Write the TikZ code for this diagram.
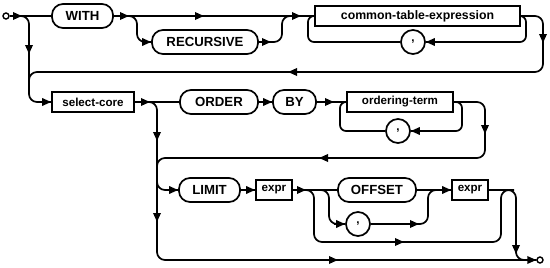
\documentclass[tikz,border=0pt]{standalone}
\usepackage{fontspec}
\setmainfont{Liberation Sans}
\usetikzlibrary{arrows.meta}
\begin{document}
\begin{tikzpicture}[x=1pt,y=-1pt,line width=1.7pt,
  rr/.style={rounded corners=8pt},
  rs/.style={rounded corners=6pt},
  kw/.style={draw,rounded corners=11pt,minimum height=24pt,inner sep=0pt,font=\bfseries\fontsize{13.2}{13}\selectfont},
  nt/.style={draw,rectangle,minimum height=20pt,inner sep=0pt,font=\bfseries\fontsize{11.6}{12}\selectfont},
  commanode/.style={draw,circle,minimum size=24pt,inner sep=0pt,font=\bfseries\fontsize{11.6}{12}\selectfont},
  endpt/.style={draw,circle,minimum size=6pt,inner sep=0pt,line width=1.4pt},
  ah/.style={-{Triangle[length=9pt,width=7.5pt]}}]
\useasboundingbox (0,0) rectangle (550,268);
% nodes
\node[endpt] (start) at (6,16) {};
\node[kw,minimum width=61pt] (with) at (82.5,16) {WITH};
\node[kw,minimum width=106pt] (rec) at (205,42) {RECURSIVE};
\node[nt,minimum width=205pt,font=\bfseries\fontsize{12.3}{12}\selectfont] (cte) at (417.5,16) {common-table-expression};
\node[commanode] (c1) at (413,42) {,};
\node[nt,minimum width=82pt] (core) at (93,102) {select-core};
\node[kw,minimum width=78pt] (order) at (219,102) {ORDER};
\node[kw,minimum width=43pt] (by) at (294.5,102) {BY};
\node[nt,minimum width=106pt] (oterm) at (400,102) {ordering-term};
\node[commanode] (c2) at (398,131) {,};
\node[kw,minimum width=61pt] (limit) at (209.5,190) {LIMIT};
\node[nt,minimum width=36pt] (e1) at (274,190) {expr};
\node[kw,minimum width=78pt] (offset) at (377,190) {OFFSET};
\node[commanode] (c3) at (358,224) {,};
\node[nt,minimum width=36pt] (e2) at (470,190) {expr};
\node[endpt] (end) at (540,260) {};
% row 1
\draw (start) -- (with);
\draw[ah] (11,16) -- (22,16);
\draw[rr] (15,16) -| (29,102) -- (core.west);
\draw[ah] (29,43) -- (29,54);
\draw[ah] (40,102) -- (core.west);
\draw (with) -- (cte);
\draw[ah] (118,16) -- (129,16);
\draw[ah] (193,16) -- (204,16);
\draw[ah] (290,16) -- (301,16);
\draw[rr] (126,16) -| (137,42) -- (rec.west);
\draw[ah] (142,42) -- (rec.west);
\draw[rr] (rec.east) -| (282,16) -- (292,16);
\draw[ah] (260,42) -- (271,42);
\draw[rs] (cte.east) -| (526,42) -- (c1.east);
\draw[rs] (c1.west) -| (308,16) -- (cte.west);
\draw[ah] (436,42) -- (c1.east);
\draw[rr] (cte.east) -| (543,72) -- (29,72) -- (29,90);
\draw[ah] (543,31) -- (543,43);
\draw[ah] (300,72) -- (288,72);
% row 2
\draw (core) -- (order);
\draw[ah] (138,102) -- (150,102);
\draw[rr] (145,102) -| (157,260) -- (end.west);
\draw[ah] (157,129) -- (157,141);
\draw[ah] (157,210) -- (157,222);
\draw (order) -- (by);
\draw[ah] (262,102) -- (by.west);
\draw (by) -- (oterm);
\draw[ah] (322,102) -- (334,102);
\draw[rs] (oterm.east) -| (462,131) -- (c2.east);
\draw[rs] (c2.west) -| (340,102) -- (oterm.west);
\draw[ah] (424,131) -- (c2.east);
\draw[rr] (oterm.east) -| (485,158) -- (157,158) -- (157,190) -- (limit.west);
\draw[ah] (485,122) -- (485,134);
\draw[ah] (331,158) -- (319,158);
\draw[ah] (168,190) -- (limit.west);
% row 3
\draw (limit) -- (e1);
\draw[ah] (244,190) -- (e1.west);
\draw (e1) -- (offset);
\draw[ah] (294,190) -- (306,190);
\draw[rr] (316,190) -| (329,224) -- (c3.west);
\draw[ah] (334,224) -- (c3.west);
\draw[rr] (c3.east) -| (428,190) -- (e2.west);
\draw[ah] (407,224) -- (419,224);
\draw (offset) -- (e2);
\draw[ah] (440,190) -- (e2.west);
\draw[rr] (303,190) -| (314,242) -- (501,242) -- (501,190) -- (514,190);
\draw[ah] (392,242) -- (404,242);
\draw[rr] (e2.east) -| (516,260) -- (end.west);
\draw[ah] (516,242) -- (516,254);
\draw[ah] (326,260) -- (338,260);
\draw[ah] (526,260) -- (end.west);
\end{tikzpicture}
\end{document}
